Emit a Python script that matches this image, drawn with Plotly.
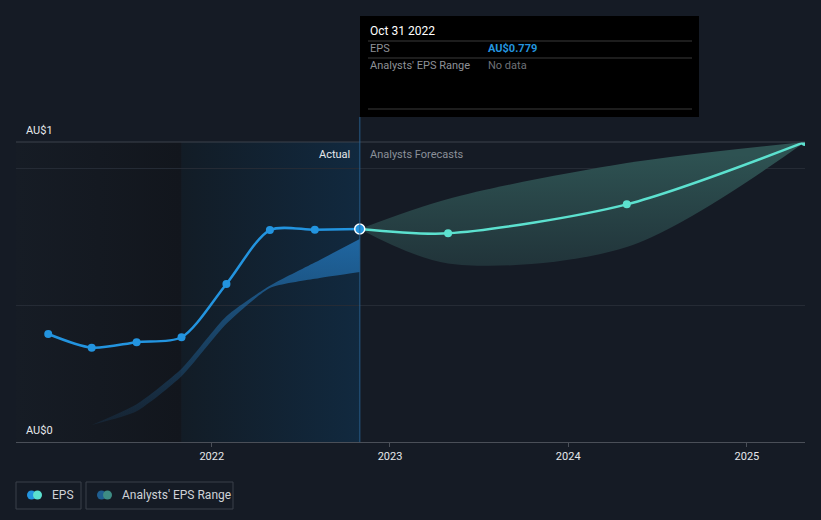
import plotly.graph_objects as go
import pandas as pd
import base64

# ---------------- data ----------------
actual_dates = ["2021-01-31", "2021-04-30", "2021-07-31", "2021-10-31",
                "2022-01-31", "2022-04-30", "2022-07-31", "2022-10-31"]
actual_eps = [0.395, 0.345, 0.365, 0.383, 0.578, 0.775, 0.776, 0.779]

forecast_dates = ["2022-10-31", "2023-04-30", "2024-04-30", "2025-04-30"]
forecast_eps = [0.779, 0.763, 0.869, 1.097]
forecast_low = [0.779, 0.653, 0.713, 1.097]
forecast_high = [0.779, 0.889, 1.020, 1.097]

past_range_dates = ["2021-04-30", "2021-07-31", "2021-10-31", "2022-01-31",
                    "2022-04-30", "2022-07-31", "2022-10-31"]
past_range_low = [0.062, 0.112, 0.240, 0.432, 0.563, 0.597, 0.622]
past_range_high = [0.062, 0.138, 0.268, 0.460, 0.571, 0.656, 0.742]

year_ticks = ["2022-01-01", "2023-01-01", "2024-01-01", "2025-01-01"]
year_labels = ["2022", "2023", "2024", "2025"]

x_start, x_end = "2020-11-26", "2025-04-30"
past_start, past_end = "2021-10-31", "2022-10-31"
y_max = 1.097

BG = "#151b25"
BLUE = "#2394df"
TEAL = "#5ce1cf"

# pixel -> paper helpers (layout positioning only)
L, R, T, B = 16, 805, 142, 442
def px(x):
    return (x - L) / (R - L)
def py(y):
    return (B - y) / (B - T)

fig = go.Figure()

# past analysts range band (blue)
fig.add_trace(go.Scatter(x=past_range_dates, y=past_range_low, mode="lines",
                         line=dict(width=0, shape="spline", smoothing=0.6),
                         hoverinfo="skip", showlegend=False))
fig.add_trace(go.Scatter(x=past_range_dates, y=past_range_high, mode="lines",
                         line=dict(width=0, shape="spline", smoothing=0.6),
                         fill="tonexty",
                         fillgradient=dict(type="vertical", start=0.05, stop=0.75,
                                           colorscale=[[0, "rgba(35,110,170,0.12)"],
                                                       [1, "rgba(35,120,190,0.78)"]]),
                         hoverinfo="skip", showlegend=False))

# forecast range band (teal)
fig.add_trace(go.Scatter(x=forecast_dates, y=forecast_low, mode="lines",
                         line=dict(width=0, shape="spline", smoothing=0.9),
                         hoverinfo="skip", showlegend=False))
fig.add_trace(go.Scatter(x=forecast_dates, y=forecast_high, mode="lines",
                         line=dict(width=0, shape="spline", smoothing=0.9),
                         fill="tonexty",
                         fillgradient=dict(type="vertical", start=0.65, stop=1.05,
                                           colorscale=[[0, "rgb(33,52,58)"],
                                                       [1, "rgb(46,82,82)"]]),
                         hoverinfo="skip", showlegend=False))

# forecast EPS line
fig.add_trace(go.Scatter(x=forecast_dates, y=forecast_eps, mode="lines+markers",
                         line=dict(color=TEAL, width=2.5, shape="spline", smoothing=0.8),
                         marker=dict(size=8, color=TEAL),
                         name="EPS forecast", showlegend=False))

# actual EPS line
fig.add_trace(go.Scatter(x=actual_dates, y=actual_eps, mode="lines+markers",
                         line=dict(color=BLUE, width=2.5, shape="spline", smoothing=0.8),
                         marker=dict(size=8, color=BLUE),
                         name="EPS", showlegend=False))
# highlighted hover point
fig.add_trace(go.Scatter(x=[actual_dates[-1]], y=[actual_eps[-1]], mode="markers",
                         marker=dict(size=10, color=BLUE, line=dict(color="white", width=1.5)),
                         hoverinfo="skip", showlegend=False))

# gradient background regions as SVG images
def grad_uri(c0, c1):
    svg = ("<svg xmlns='http://www.w3.org/2000/svg' width='200' height='20' preserveAspectRatio='none'>"
           "<defs><linearGradient id='g' x1='0' x2='1' y1='0' y2='0'>"
           "<stop offset='0' stop-color='%s'/><stop offset='1' stop-color='%s'/>"
           "</linearGradient></defs><rect width='200' height='20' fill='url(#g)'/></svg>") % (c0, c1)
    return "data:image/svg+xml;base64," + base64.b64encode(svg.encode()).decode()

def ms(d0, d1):
    return (pd.Timestamp(d1) - pd.Timestamp(d0)).total_seconds() * 1000

images = [
    dict(source=grad_uri("rgb(22,28,37)", "rgb(18,22,29)"), xref="x", yref="paper",
         x=x_start, y=1, sizex=ms(x_start, past_start), sizey=1, sizing="stretch",
         xanchor="left", yanchor="top", layer="below"),
    dict(source=grad_uri("rgb(18,28,38)", "rgb(17,41,63)"), xref="x", yref="paper",
         x=past_start, y=1, sizex=ms(past_start, past_end), sizey=1, sizing="stretch",
         xanchor="left", yanchor="top", layer="below"),
]

shapes = []
NOLINE = dict(width=0, color="rgba(0,0,0,0)")
# top border line
shapes.append(dict(type="line", xref="paper", yref="paper", x0=0, x1=1, y0=1, y1=1,
                   line=dict(color="#3d434c", width=1)))
# hover vertical line
shapes.append(dict(type="line", xref="x", yref="paper", x0=past_end, x1=past_end,
                   y0=0, y1=py(117), line=dict(color="rgba(40,100,150,0.6)", width=1.5)))
# tooltip box
shapes.append(dict(type="rect", xref="paper", yref="paper", x0=px(360), x1=px(699),
                   y0=py(117), y1=py(16), fillcolor="#000000", line=NOLINE))
for yy in (41, 58, 109):
    shapes.append(dict(type="line", xref="paper", yref="paper", x0=px(368), x1=px(692),
                       y0=py(yy), y1=py(yy), line=dict(color="#3a3a3a", width=1)))

# legend boxes
for x0, x1 in ((16, 81), (86, 233)):
    shapes.append(dict(type="rect", xref="paper", yref="paper", x0=px(x0), x1=px(x1),
                       y0=py(509), y1=py(482), line=dict(color="#3b414a", width=1),
                       fillcolor="rgba(0,0,0,0)"))
def circ(cx, cy, r, color):
    return dict(type="circle", xref="paper", yref="paper", x0=px(cx - r), x1=px(cx + r),
                y0=py(cy + r), y1=py(cy - r), fillcolor=color, line=NOLINE)
shapes += [circ(31.5, 495, 4.5, BLUE), circ(37.5, 495, 4.5, TEAL),
           circ(101.5, 495, 4.5, "#1f5e90"), circ(107.5, 495, 4.5, "#3e8c84")]

ann = []
def text(x, y, s, color, size=11, anchor="left", bold=False):
    ann.append(dict(xref="paper", yref="paper", x=px(x), y=py(y), text=("<b>%s</b>" % s) if bold else s,
                    showarrow=False, xanchor=anchor, yanchor="middle",
                    font=dict(color=color, size=size, family="Roboto")))

text(24, 130, "AU$1", "#e6e8eb", 11)
text(24, 430, "AU$0", "#e6e8eb", 11)
text(352, 154, "Actual", "#e6e8eb", 11, anchor="right")
text(368, 154, "Analysts Forecasts", "#8b9099", 11)
text(368, 31, "Oct 31 2022", "#ffffff", 12)
text(368, 49, "EPS", "#8e9197", 11)
text(486, 49, "AU$0.779", BLUE, 11, bold=True)
text(368, 66, "Analysts' EPS Range", "#8e9197", 11)
text(486, 66, "No data", "#6e7177", 11)
text(50, 495, "EPS", "#cfd2d7", 12)
text(120, 495, "Analysts' EPS Range", "#cfd2d7", 12)

fig.update_layout(
    width=821, height=520,
    margin=dict(l=L, r=821 - R, t=T, b=520 - B),
    paper_bgcolor=BG, plot_bgcolor=BG,
    shapes=shapes, annotations=ann, images=images,
    showlegend=False,
    font=dict(family="Roboto", color="#e6e8eb"),
    xaxis=dict(type="date", range=[x_start, x_end], tickvals=year_ticks, ticktext=year_labels,
               showgrid=False, zeroline=False, showline=True, linecolor="#4a4f58", linewidth=1,
               ticks="outside", ticklen=4, tickcolor="#4a4f58",
               tickfont=dict(size=11, color="#e6e8eb", family="Roboto")),
    yaxis=dict(range=[0, y_max], tickvals=[0.5, 1.0], showticklabels=False,
               showgrid=True, gridcolor="#252b35", gridwidth=1, zeroline=False, showline=False),
    hovermode=False,
)

fig.write_html("out.html")
